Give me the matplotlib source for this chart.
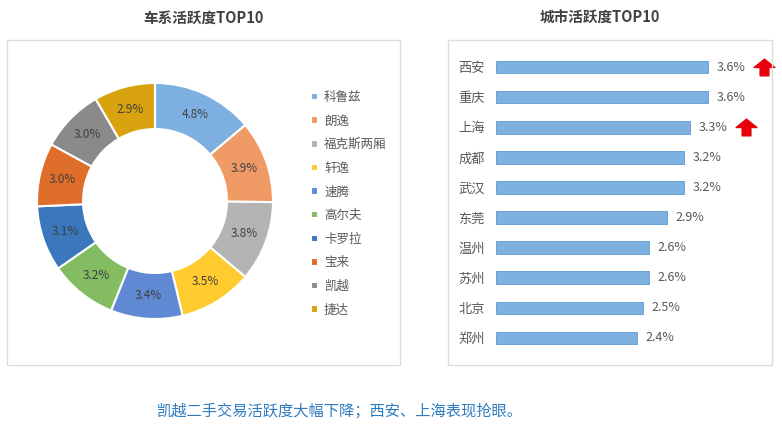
import numpy as np
import matplotlib.pyplot as plt
from matplotlib.patches import Rectangle
from matplotlib.path import Path

plt.rcParams['font.family'] = ['Noto Sans CJK SC', 'DejaVu Sans']

# 车系活跃度 TOP10
car_names = ['科鲁兹', '朗逸', '福克斯两厢', '轩逸', '速腾', '高尔夫', '卡罗拉', '宝来', '凯越', '捷达']
car_values = [4.8, 3.9, 3.8, 3.5, 3.4, 3.2, 3.1, 3.0, 3.0, 2.9]
car_colors = ['#7DB0E0', '#F09A66', '#B4B4B4', '#FFCB2E', '#5F89D2',
              '#84BC62', '#3A77BD', '#DE6E2A', '#8A8A8A', '#D9A30F']

# 城市活跃度 TOP10
city_names = ['西安', '重庆', '上海', '成都', '武汉', '东莞', '温州', '苏州', '北京', '郑州']
city_values = [3.6, 3.6, 3.3, 3.2, 3.2, 2.9, 2.6, 2.6, 2.5, 2.4]
city_up = ['西安', '上海']

caption = '凯越二手交易活跃度大幅下降；西安、上海表现抢眼。'

W, H = 782, 437
fig = plt.figure(figsize=(W / 100, H / 100), dpi=100)


def fx(px):
    return px / W


def fy(py):
    return 1 - py / H


# panel frames
for x0, x1 in [(7, 400), (448, 772)]:
    fig.patches.append(Rectangle((fx(x0), fy(365)), fx(x1 - x0), (365 - 40) / H,
                                 transform=fig.transFigure, fill=False,
                                 edgecolor='#DDDDDD', linewidth=1))

fig.text(fx(204), fy(18), '车系活跃度TOP10', ha='center', va='center',
         fontsize=10.5, fontweight='bold', color='#404040')
fig.text(fx(600), fy(18), '城市活跃度TOP10', ha='center', va='center',
         fontsize=10.5, fontweight='bold', color='#404040')

# donut
cx, cy, r = 155, 201, 118
box = 2 * r * 1.1
ax1 = fig.add_axes([fx(cx - box / 2), fy(cy + box / 2), box / W, box / H])
total = sum(car_values)
wedges, _, autotexts = ax1.pie(
    car_values, colors=car_colors, startangle=90, counterclock=False, radius=1,
    wedgeprops=dict(width=0.39, edgecolor='white', linewidth=1.5),
    autopct=lambda p: '{:.1f}%'.format(p * total / 100), pctdistance=0.805,
    textprops=dict(fontsize=8.5, color='#404040'))
ax1.set_xlim(-1.1, 1.1)
ax1.set_ylim(-1.1, 1.1)
ax1.set_aspect('equal')

fig.legend(wedges, car_names, loc='upper left',
           bbox_to_anchor=(fx(306), fy(86)), frameon=False, fontsize=9,
           handlelength=0.55, handleheight=0.55, handletextpad=0.5,
           labelspacing=0.85, labelcolor='#595959', borderaxespad=0)

# bars
ax2 = fig.add_axes([fx(496), fy(353), fx(4.5 * 58.9), (353 - 52) / H])
y = np.arange(len(city_names))
bars = ax2.barh(y, city_values, height=0.42, color='#7EB1E0', edgecolor='#5B9BD5',
                linewidth=0.6)
ax2.set_ylim(len(city_names) - 0.5, -0.5)
ax2.set_xlim(0, 4.5)
ax2.set_yticks(y)
ax2.set_yticklabels(city_names, fontsize=9.5, color='#595959')
ax2.tick_params(axis='y', length=0, pad=8)
ax2.set_xticks([])
for s in ax2.spines.values():
    s.set_visible(False)
for rect, v in zip(bars, city_values):
    ax2.annotate('{:.1f}%'.format(v), xy=(v, rect.get_y() + rect.get_height() / 2),
                 xytext=(6, 0), textcoords='offset points', ha='left', va='center',
                 fontsize=9, color='#595959')

arrow = Path([(-0.42, -0.8), (0.42, -0.8), (0.42, 0), (1, 0), (0, 0.8),
              (-1, 0), (-0.42, 0), (-0.42, -0.8)], closed=True)
for name in city_up:
    i = city_names.index(name)
    ax2.plot(city_values[i] + 0.95, i, marker=arrow, ms=15, color='#E8000B',
             clip_on=False)

fig.text(fx(157), fy(411), caption, ha='left', va='center', fontsize=11,
         color='#2E7CC0', style='italic')

fig.savefig('out.png', dpi=100)
